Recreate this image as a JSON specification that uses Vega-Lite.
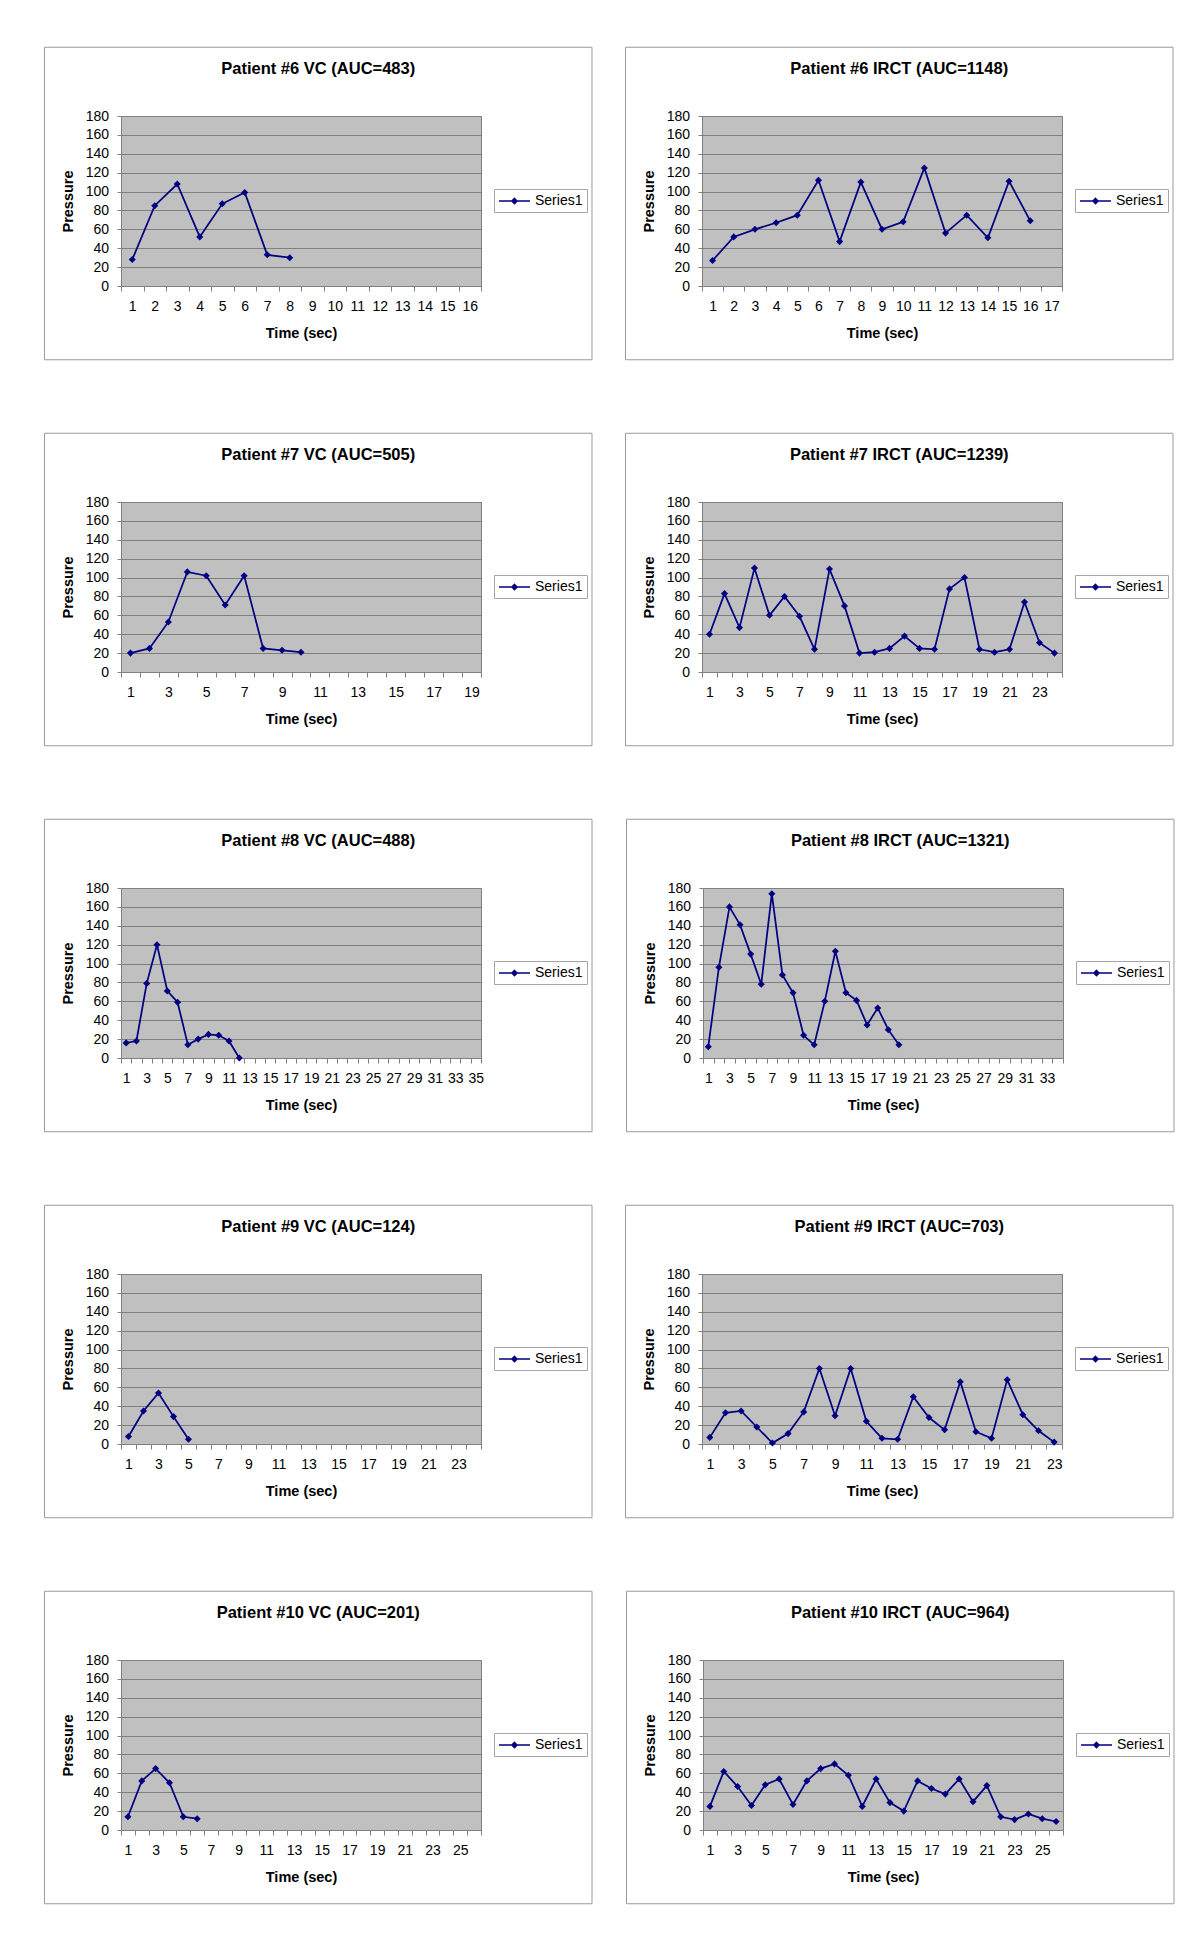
{
  "$schema": "https://vega.github.io/schema/vega-lite/v6.json",
  "background": "#ffffff",
  "padding": {"left": 43, "top": 46, "right": 0, "bottom": 0},
  "datasets": {
    "p6vc": [{"t":1,"p":28},{"t":2,"p":85},{"t":3,"p":108},{"t":4,"p":52},{"t":5,"p":87},{"t":6,"p":99},{"t":7,"p":33},{"t":8,"p":30}],
    "p6ir": [{"t":1,"p":27},{"t":2,"p":52},{"t":3,"p":60},{"t":4,"p":67},{"t":5,"p":75},{"t":6,"p":112},{"t":7,"p":47},{"t":8,"p":110},{"t":9,"p":60},{"t":10,"p":68},{"t":11,"p":125},{"t":12,"p":56},{"t":13,"p":75},{"t":14,"p":51},{"t":15,"p":111},{"t":16,"p":69}],
    "p7vc": [{"t":1,"p":20},{"t":2,"p":25},{"t":3,"p":53},{"t":4,"p":106},{"t":5,"p":102},{"t":6,"p":71},{"t":7,"p":102},{"t":8,"p":25},{"t":9,"p":23},{"t":10,"p":21}],
    "p7ir": [{"t":1,"p":40},{"t":2,"p":83},{"t":3,"p":47},{"t":4,"p":110},{"t":5,"p":60},{"t":6,"p":80},{"t":7,"p":59},{"t":8,"p":24},{"t":9,"p":109},{"t":10,"p":70},{"t":11,"p":20},{"t":12,"p":21},{"t":13,"p":25},{"t":14,"p":38},{"t":15,"p":25},{"t":16,"p":24},{"t":17,"p":88},{"t":18,"p":100},{"t":19,"p":24},{"t":20,"p":21},{"t":21,"p":24},{"t":22,"p":74},{"t":23,"p":31},{"t":24,"p":20}],
    "p8vc": [{"t":1,"p":16},{"t":2,"p":18},{"t":3,"p":79},{"t":4,"p":120},{"t":5,"p":71},{"t":6,"p":59},{"t":7,"p":14},{"t":8,"p":20},{"t":9,"p":25},{"t":10,"p":24},{"t":11,"p":18},{"t":12,"p":0}],
    "p8ir": [{"t":1,"p":12},{"t":2,"p":96},{"t":3,"p":160},{"t":4,"p":141},{"t":5,"p":110},{"t":6,"p":78},{"t":7,"p":174},{"t":8,"p":88},{"t":9,"p":69},{"t":10,"p":24},{"t":11,"p":14},{"t":12,"p":60},{"t":13,"p":113},{"t":14,"p":69},{"t":15,"p":61},{"t":16,"p":35},{"t":17,"p":53},{"t":18,"p":30},{"t":19,"p":14}],
    "p9vc": [{"t":1,"p":8},{"t":2,"p":35},{"t":3,"p":54},{"t":4,"p":29},{"t":5,"p":5}],
    "p9ir": [{"t":1,"p":7},{"t":2,"p":33},{"t":3,"p":35},{"t":4,"p":18},{"t":5,"p":1},{"t":6,"p":11},{"t":7,"p":34},{"t":8,"p":80},{"t":9,"p":30},{"t":10,"p":80},{"t":11,"p":24},{"t":12,"p":6},{"t":13,"p":5},{"t":14,"p":50},{"t":15,"p":28},{"t":16,"p":15},{"t":17,"p":66},{"t":18,"p":13},{"t":19,"p":6},{"t":20,"p":68},{"t":21,"p":31},{"t":22,"p":14},{"t":23,"p":2}],
    "p10vc": [{"t":1,"p":14},{"t":2,"p":52},{"t":3,"p":65},{"t":4,"p":50},{"t":5,"p":14},{"t":6,"p":12}],
    "p10ir": [{"t":1,"p":25},{"t":2,"p":62},{"t":3,"p":46},{"t":4,"p":26},{"t":5,"p":48},{"t":6,"p":54},{"t":7,"p":27},{"t":8,"p":52},{"t":9,"p":65},{"t":10,"p":70},{"t":11,"p":58},{"t":12,"p":25},{"t":13,"p":54},{"t":14,"p":29},{"t":15,"p":20},{"t":16,"p":52},{"t":17,"p":44},{"t":18,"p":38},{"t":19,"p":54},{"t":20,"p":30},{"t":21,"p":47},{"t":22,"p":14},{"t":23,"p":11},{"t":24,"p":17},{"t":25,"p":12},{"t":26,"p":9}]
  },
  "vconcat": [
    {
      "hconcat": [
        {
          "width": 360, "height": 170,
          "title": {"text": "Patient #6 VC (AUC=483)"},
          "layer": [
            {"data": {"values": [{}]}, "mark": {"type": "rect", "filled": false, "stroke": "#9a9a9a", "strokeWidth": 1},
             "encoding": {"x": {"datum": -2.9, "type": "quantitative"}, "x2": {"datum": 21.433}, "y": {"datum": -78.1, "type": "quantitative"}, "y2": {"datum": 252.8}}},
            {"data": {"name": "p6vc"}, "mark": {"type": "line", "strokeWidth": 1.75},
             "encoding": {
               "x": {"field": "t", "type": "quantitative", "scale": {"domain": [0.5, 16.5], "nice": false, "zero": false},
                     "axis": {"title": "Time (sec)", "tickCount": 100, "labelOverlap": false, "labelFlush": false, "values": [0.5,1.5,2.5,3.5,4.5,5.5,6.5,7.5,8.5,9.5,10.5,11.5,12.5,13.5,14.5,15.5,16.5], "labelOffset": 11.25, "labelExpr": "datum.value + 0.5 <= 16 ? '' + (datum.value + 0.5) : ''"}},
               "y": {"field": "p", "type": "quantitative", "scale": {"domain": [0, 180], "nice": false}, "axis": {"title": "Pressure", "tickCount": 100, "labelOverlap": false, "values": [0,20,40,60,80,100,120,140,160,180]}},
               "color": {"datum": "Series1", "type": "nominal", "scale": {"range": ["#000080"]},
                         "legend": {"title": null, "orient": "none", "legendX": 373, "legendY": 73, "padding": 4, "strokeColor": "#a6a6a6", "fillColor": "#ffffff", "symbolType": "M-1,0L3.43,0M1.214,-0.37L1.584,0L1.214,0.37L0.844,0Z", "symbolSize": 196, "symbolStrokeWidth": 1.5, "labelOffset": 21, "labelFontSize": 14, "labelFont": "Liberation Sans", "labelColor": "#000000", "encode": {"symbols": {"update": {"fill": {"value": "#000080"}, "stroke": {"value": "#000080"}, "strokeWidth": {"value": 1.5}, "opacity": {"value": 1}}}}}}
             }},
            {"data": {"name": "p6vc"}, "mark": {"type": "point", "shape": "diamond", "filled": true, "size": 50, "color": "#000080", "opacity": 1},
             "encoding": {"x": {"field": "t", "type": "quantitative"}, "y": {"field": "p", "type": "quantitative"}}}
          ]
        },
        {
          "width": 360, "height": 170,
          "title": {"text": "Patient #6 IRCT (AUC=1148)"},
          "layer": [
            {"data": {"values": [{}]}, "mark": {"type": "rect", "filled": false, "stroke": "#9a9a9a", "strokeWidth": 1},
             "encoding": {"x": {"datum": -3.1125, "type": "quantitative"}, "x2": {"datum": 22.742}, "y": {"datum": -78.1, "type": "quantitative"}, "y2": {"datum": 252.8}}},
            {"data": {"name": "p6ir"}, "mark": {"type": "line", "strokeWidth": 1.75},
             "encoding": {
               "x": {"field": "t", "type": "quantitative", "scale": {"domain": [0.5, 17.5], "nice": false, "zero": false},
                     "axis": {"title": "Time (sec)", "tickCount": 100, "labelOverlap": false, "labelFlush": false, "values": [0.5,1.5,2.5,3.5,4.5,5.5,6.5,7.5,8.5,9.5,10.5,11.5,12.5,13.5,14.5,15.5,16.5,17.5], "labelOffset": 10.588, "labelExpr": "datum.value + 0.5 <= 17 ? '' + (datum.value + 0.5) : ''"}},
               "y": {"field": "p", "type": "quantitative", "scale": {"domain": [0, 180], "nice": false}, "axis": {"title": "Pressure", "tickCount": 100, "labelOverlap": false, "values": [0,20,40,60,80,100,120,140,160,180]}},
               "color": {"datum": "Series1", "type": "nominal", "scale": {"range": ["#000080"]},
                         "legend": {"title": null, "orient": "none", "legendX": 373, "legendY": 73, "padding": 4, "strokeColor": "#a6a6a6", "fillColor": "#ffffff", "symbolType": "M-1,0L3.43,0M1.214,-0.37L1.584,0L1.214,0.37L0.844,0Z", "symbolSize": 196, "symbolStrokeWidth": 1.5, "labelOffset": 21, "labelFontSize": 14, "labelFont": "Liberation Sans", "labelColor": "#000000", "encode": {"symbols": {"update": {"fill": {"value": "#000080"}, "stroke": {"value": "#000080"}, "strokeWidth": {"value": 1.5}, "opacity": {"value": 1}}}}}}
             }},
            {"data": {"name": "p6ir"}, "mark": {"type": "point", "shape": "diamond", "filled": true, "size": 50, "color": "#000080", "opacity": 1},
             "encoding": {"x": {"field": "t", "type": "quantitative"}, "y": {"field": "p", "type": "quantitative"}}}
          ]
        }
      ],
      "spacing": 31,
      "resolve": {"scale": {"color": "independent"}}
    },
    {
      "hconcat": [
        {
          "width": 360, "height": 170,
          "title": {"text": "Patient #7 VC (AUC=505)"},
          "layer": [
            {"data": {"values": [{}]}, "mark": {"type": "rect", "filled": false, "stroke": "#9a9a9a", "strokeWidth": 1},
             "encoding": {"x": {"datum": -3.5375, "type": "quantitative"}, "x2": {"datum": 25.358}, "y": {"datum": -78.1, "type": "quantitative"}, "y2": {"datum": 252.8}}},
            {"data": {"name": "p7vc"}, "mark": {"type": "line", "strokeWidth": 1.75},
             "encoding": {
               "x": {"field": "t", "type": "quantitative", "scale": {"domain": [0.5, 19.5], "nice": false, "zero": false},
                     "axis": {"title": "Time (sec)", "tickCount": 100, "labelOverlap": false, "labelFlush": false, "values": [0.5,1.5,2.5,3.5,4.5,5.5,6.5,7.5,8.5,9.5,10.5,11.5,12.5,13.5,14.5,15.5,16.5,17.5,18.5,19.5], "labelOffset": 9.474, "labelExpr": "(datum.value + 0.5 <= 19 && (datum.value + 0.5) % 2 == 1) ? '' + (datum.value + 0.5) : ''"}},
               "y": {"field": "p", "type": "quantitative", "scale": {"domain": [0, 180], "nice": false}, "axis": {"title": "Pressure", "tickCount": 100, "labelOverlap": false, "values": [0,20,40,60,80,100,120,140,160,180]}},
               "color": {"datum": "Series1", "type": "nominal", "scale": {"range": ["#000080"]},
                         "legend": {"title": null, "orient": "none", "legendX": 373, "legendY": 73, "padding": 4, "strokeColor": "#a6a6a6", "fillColor": "#ffffff", "symbolType": "M-1,0L3.43,0M1.214,-0.37L1.584,0L1.214,0.37L0.844,0Z", "symbolSize": 196, "symbolStrokeWidth": 1.5, "labelOffset": 21, "labelFontSize": 14, "labelFont": "Liberation Sans", "labelColor": "#000000", "encode": {"symbols": {"update": {"fill": {"value": "#000080"}, "stroke": {"value": "#000080"}, "strokeWidth": {"value": 1.5}, "opacity": {"value": 1}}}}}}
             }},
            {"data": {"name": "p7vc"}, "mark": {"type": "point", "shape": "diamond", "filled": true, "size": 50, "color": "#000080", "opacity": 1},
             "encoding": {"x": {"field": "t", "type": "quantitative"}, "y": {"field": "p", "type": "quantitative"}}}
          ]
        },
        {
          "width": 360, "height": 170,
          "title": {"text": "Patient #7 IRCT (AUC=1239)"},
          "layer": [
            {"data": {"values": [{}]}, "mark": {"type": "rect", "filled": false, "stroke": "#9a9a9a", "strokeWidth": 1},
             "encoding": {"x": {"datum": -4.6, "type": "quantitative"}, "x2": {"datum": 31.9}, "y": {"datum": -78.1, "type": "quantitative"}, "y2": {"datum": 252.8}}},
            {"data": {"name": "p7ir"}, "mark": {"type": "line", "strokeWidth": 1.75},
             "encoding": {
               "x": {"field": "t", "type": "quantitative", "scale": {"domain": [0.5, 24.5], "nice": false, "zero": false},
                     "axis": {"title": "Time (sec)", "tickCount": 100, "labelOverlap": false, "labelFlush": false, "values": [0.5,1.5,2.5,3.5,4.5,5.5,6.5,7.5,8.5,9.5,10.5,11.5,12.5,13.5,14.5,15.5,16.5,17.5,18.5,19.5,20.5,21.5,22.5,23.5,24.5], "labelOffset": 7.5, "labelExpr": "(datum.value + 0.5 <= 24 && (datum.value + 0.5) % 2 == 1) ? '' + (datum.value + 0.5) : ''"}},
               "y": {"field": "p", "type": "quantitative", "scale": {"domain": [0, 180], "nice": false}, "axis": {"title": "Pressure", "tickCount": 100, "labelOverlap": false, "values": [0,20,40,60,80,100,120,140,160,180]}},
               "color": {"datum": "Series1", "type": "nominal", "scale": {"range": ["#000080"]},
                         "legend": {"title": null, "orient": "none", "legendX": 373, "legendY": 73, "padding": 4, "strokeColor": "#a6a6a6", "fillColor": "#ffffff", "symbolType": "M-1,0L3.43,0M1.214,-0.37L1.584,0L1.214,0.37L0.844,0Z", "symbolSize": 196, "symbolStrokeWidth": 1.5, "labelOffset": 21, "labelFontSize": 14, "labelFont": "Liberation Sans", "labelColor": "#000000", "encode": {"symbols": {"update": {"fill": {"value": "#000080"}, "stroke": {"value": "#000080"}, "strokeWidth": {"value": 1.5}, "opacity": {"value": 1}}}}}}
             }},
            {"data": {"name": "p7ir"}, "mark": {"type": "point", "shape": "diamond", "filled": true, "size": 50, "color": "#000080", "opacity": 1},
             "encoding": {"x": {"field": "t", "type": "quantitative"}, "y": {"field": "p", "type": "quantitative"}}}
          ]
        }
      ],
      "spacing": 31,
      "resolve": {"scale": {"color": "independent"}}
    },
    {
      "hconcat": [
        {
          "width": 360, "height": 170,
          "title": {"text": "Patient #8 VC (AUC=488)"},
          "layer": [
            {"data": {"values": [{}]}, "mark": {"type": "rect", "filled": false, "stroke": "#9a9a9a", "strokeWidth": 1},
             "encoding": {"x": {"datum": -6.9375, "type": "quantitative"}, "x2": {"datum": 46.292}, "y": {"datum": -78.1, "type": "quantitative"}, "y2": {"datum": 252.8}}},
            {"data": {"name": "p8vc"}, "mark": {"type": "line", "strokeWidth": 1.75},
             "encoding": {
               "x": {"field": "t", "type": "quantitative", "scale": {"domain": [0.5, 35.5], "nice": false, "zero": false},
                     "axis": {"title": "Time (sec)", "tickCount": 100, "labelOverlap": false, "labelFlush": false, "values": [0.5,1.5,2.5,3.5,4.5,5.5,6.5,7.5,8.5,9.5,10.5,11.5,12.5,13.5,14.5,15.5,16.5,17.5,18.5,19.5,20.5,21.5,22.5,23.5,24.5,25.5,26.5,27.5,28.5,29.5,30.5,31.5,32.5,33.5,34.5,35.5], "labelOffset": 5.143, "labelExpr": "(datum.value + 0.5 <= 35 && (datum.value + 0.5) % 2 == 1) ? '' + (datum.value + 0.5) : ''"}},
               "y": {"field": "p", "type": "quantitative", "scale": {"domain": [0, 180], "nice": false}, "axis": {"title": "Pressure", "tickCount": 100, "labelOverlap": false, "values": [0,20,40,60,80,100,120,140,160,180]}},
               "color": {"datum": "Series1", "type": "nominal", "scale": {"range": ["#000080"]},
                         "legend": {"title": null, "orient": "none", "legendX": 373, "legendY": 73, "padding": 4, "strokeColor": "#a6a6a6", "fillColor": "#ffffff", "symbolType": "M-1,0L3.43,0M1.214,-0.37L1.584,0L1.214,0.37L0.844,0Z", "symbolSize": 196, "symbolStrokeWidth": 1.5, "labelOffset": 21, "labelFontSize": 14, "labelFont": "Liberation Sans", "labelColor": "#000000", "encode": {"symbols": {"update": {"fill": {"value": "#000080"}, "stroke": {"value": "#000080"}, "strokeWidth": {"value": 1.5}, "opacity": {"value": 1}}}}}}
             }},
            {"data": {"name": "p8vc"}, "mark": {"type": "point", "shape": "diamond", "filled": true, "size": 50, "color": "#000080", "opacity": 1},
             "encoding": {"x": {"field": "t", "type": "quantitative"}, "y": {"field": "p", "type": "quantitative"}}}
          ]
        },
        {
          "width": 360, "height": 170,
          "title": {"text": "Patient #8 IRCT (AUC=1321)"},
          "layer": [
            {"data": {"values": [{}]}, "mark": {"type": "rect", "filled": false, "stroke": "#9a9a9a", "strokeWidth": 1},
             "encoding": {"x": {"datum": -6.725, "type": "quantitative"}, "x2": {"datum": 44.983}, "y": {"datum": -78.1, "type": "quantitative"}, "y2": {"datum": 252.8}}},
            {"data": {"name": "p8ir"}, "mark": {"type": "line", "strokeWidth": 1.75},
             "encoding": {
               "x": {"field": "t", "type": "quantitative", "scale": {"domain": [0.5, 34.5], "nice": false, "zero": false},
                     "axis": {"title": "Time (sec)", "tickCount": 100, "labelOverlap": false, "labelFlush": false, "values": [0.5,1.5,2.5,3.5,4.5,5.5,6.5,7.5,8.5,9.5,10.5,11.5,12.5,13.5,14.5,15.5,16.5,17.5,18.5,19.5,20.5,21.5,22.5,23.5,24.5,25.5,26.5,27.5,28.5,29.5,30.5,31.5,32.5,33.5,34.5], "labelOffset": 5.294, "labelExpr": "(datum.value + 0.5 <= 34 && (datum.value + 0.5) % 2 == 1) ? '' + (datum.value + 0.5) : ''"}},
               "y": {"field": "p", "type": "quantitative", "scale": {"domain": [0, 180], "nice": false}, "axis": {"title": "Pressure", "tickCount": 100, "labelOverlap": false, "values": [0,20,40,60,80,100,120,140,160,180]}},
               "color": {"datum": "Series1", "type": "nominal", "scale": {"range": ["#000080"]},
                         "legend": {"title": null, "orient": "none", "legendX": 373, "legendY": 73, "padding": 4, "strokeColor": "#a6a6a6", "fillColor": "#ffffff", "symbolType": "M-1,0L3.43,0M1.214,-0.37L1.584,0L1.214,0.37L0.844,0Z", "symbolSize": 196, "symbolStrokeWidth": 1.5, "labelOffset": 21, "labelFontSize": 14, "labelFont": "Liberation Sans", "labelColor": "#000000", "encode": {"symbols": {"update": {"fill": {"value": "#000080"}, "stroke": {"value": "#000080"}, "strokeWidth": {"value": 1.5}, "opacity": {"value": 1}}}}}}
             }},
            {"data": {"name": "p8ir"}, "mark": {"type": "point", "shape": "diamond", "filled": true, "size": 50, "color": "#000080", "opacity": 1},
             "encoding": {"x": {"field": "t", "type": "quantitative"}, "y": {"field": "p", "type": "quantitative"}}}
          ]
        }
      ],
      "spacing": 31,
      "resolve": {"scale": {"color": "independent"}}
    },
    {
      "hconcat": [
        {
          "width": 360, "height": 170,
          "title": {"text": "Patient #9 VC (AUC=124)"},
          "layer": [
            {"data": {"values": [{}]}, "mark": {"type": "rect", "filled": false, "stroke": "#9a9a9a", "strokeWidth": 1},
             "encoding": {"x": {"datum": -4.6, "type": "quantitative"}, "x2": {"datum": 31.9}, "y": {"datum": -78.1, "type": "quantitative"}, "y2": {"datum": 252.8}}},
            {"data": {"name": "p9vc"}, "mark": {"type": "line", "strokeWidth": 1.75},
             "encoding": {
               "x": {"field": "t", "type": "quantitative", "scale": {"domain": [0.5, 24.5], "nice": false, "zero": false},
                     "axis": {"title": "Time (sec)", "tickCount": 100, "labelOverlap": false, "labelFlush": false, "values": [0.5,1.5,2.5,3.5,4.5,5.5,6.5,7.5,8.5,9.5,10.5,11.5,12.5,13.5,14.5,15.5,16.5,17.5,18.5,19.5,20.5,21.5,22.5,23.5,24.5], "labelOffset": 7.5, "labelExpr": "(datum.value + 0.5 <= 24 && (datum.value + 0.5) % 2 == 1) ? '' + (datum.value + 0.5) : ''"}},
               "y": {"field": "p", "type": "quantitative", "scale": {"domain": [0, 180], "nice": false}, "axis": {"title": "Pressure", "tickCount": 100, "labelOverlap": false, "values": [0,20,40,60,80,100,120,140,160,180]}},
               "color": {"datum": "Series1", "type": "nominal", "scale": {"range": ["#000080"]},
                         "legend": {"title": null, "orient": "none", "legendX": 373, "legendY": 73, "padding": 4, "strokeColor": "#a6a6a6", "fillColor": "#ffffff", "symbolType": "M-1,0L3.43,0M1.214,-0.37L1.584,0L1.214,0.37L0.844,0Z", "symbolSize": 196, "symbolStrokeWidth": 1.5, "labelOffset": 21, "labelFontSize": 14, "labelFont": "Liberation Sans", "labelColor": "#000000", "encode": {"symbols": {"update": {"fill": {"value": "#000080"}, "stroke": {"value": "#000080"}, "strokeWidth": {"value": 1.5}, "opacity": {"value": 1}}}}}}
             }},
            {"data": {"name": "p9vc"}, "mark": {"type": "point", "shape": "diamond", "filled": true, "size": 50, "color": "#000080", "opacity": 1},
             "encoding": {"x": {"field": "t", "type": "quantitative"}, "y": {"field": "p", "type": "quantitative"}}}
          ]
        },
        {
          "width": 360, "height": 170,
          "title": {"text": "Patient #9 IRCT (AUC=703)"},
          "layer": [
            {"data": {"values": [{}]}, "mark": {"type": "rect", "filled": false, "stroke": "#9a9a9a", "strokeWidth": 1},
             "encoding": {"x": {"datum": -4.3875, "type": "quantitative"}, "x2": {"datum": 30.592}, "y": {"datum": -78.1, "type": "quantitative"}, "y2": {"datum": 252.8}}},
            {"data": {"name": "p9ir"}, "mark": {"type": "line", "strokeWidth": 1.75},
             "encoding": {
               "x": {"field": "t", "type": "quantitative", "scale": {"domain": [0.5, 23.5], "nice": false, "zero": false},
                     "axis": {"title": "Time (sec)", "tickCount": 100, "labelOverlap": false, "labelFlush": false, "values": [0.5,1.5,2.5,3.5,4.5,5.5,6.5,7.5,8.5,9.5,10.5,11.5,12.5,13.5,14.5,15.5,16.5,17.5,18.5,19.5,20.5,21.5,22.5,23.5], "labelOffset": 7.826, "labelExpr": "(datum.value + 0.5 <= 23 && (datum.value + 0.5) % 2 == 1) ? '' + (datum.value + 0.5) : ''"}},
               "y": {"field": "p", "type": "quantitative", "scale": {"domain": [0, 180], "nice": false}, "axis": {"title": "Pressure", "tickCount": 100, "labelOverlap": false, "values": [0,20,40,60,80,100,120,140,160,180]}},
               "color": {"datum": "Series1", "type": "nominal", "scale": {"range": ["#000080"]},
                         "legend": {"title": null, "orient": "none", "legendX": 373, "legendY": 73, "padding": 4, "strokeColor": "#a6a6a6", "fillColor": "#ffffff", "symbolType": "M-1,0L3.43,0M1.214,-0.37L1.584,0L1.214,0.37L0.844,0Z", "symbolSize": 196, "symbolStrokeWidth": 1.5, "labelOffset": 21, "labelFontSize": 14, "labelFont": "Liberation Sans", "labelColor": "#000000", "encode": {"symbols": {"update": {"fill": {"value": "#000080"}, "stroke": {"value": "#000080"}, "strokeWidth": {"value": 1.5}, "opacity": {"value": 1}}}}}}
             }},
            {"data": {"name": "p9ir"}, "mark": {"type": "point", "shape": "diamond", "filled": true, "size": 50, "color": "#000080", "opacity": 1},
             "encoding": {"x": {"field": "t", "type": "quantitative"}, "y": {"field": "p", "type": "quantitative"}}}
          ]
        }
      ],
      "spacing": 31,
      "resolve": {"scale": {"color": "independent"}}
    },
    {
      "hconcat": [
        {
          "width": 360, "height": 170,
          "title": {"text": "Patient #10 VC (AUC=201)"},
          "layer": [
            {"data": {"values": [{}]}, "mark": {"type": "rect", "filled": false, "stroke": "#9a9a9a", "strokeWidth": 1},
             "encoding": {"x": {"datum": -5.025, "type": "quantitative"}, "x2": {"datum": 34.517}, "y": {"datum": -78.1, "type": "quantitative"}, "y2": {"datum": 252.8}}},
            {"data": {"name": "p10vc"}, "mark": {"type": "line", "strokeWidth": 1.75},
             "encoding": {
               "x": {"field": "t", "type": "quantitative", "scale": {"domain": [0.5, 26.5], "nice": false, "zero": false},
                     "axis": {"title": "Time (sec)", "tickCount": 100, "labelOverlap": false, "labelFlush": false, "values": [0.5,1.5,2.5,3.5,4.5,5.5,6.5,7.5,8.5,9.5,10.5,11.5,12.5,13.5,14.5,15.5,16.5,17.5,18.5,19.5,20.5,21.5,22.5,23.5,24.5,25.5,26.5], "labelOffset": 6.923, "labelExpr": "(datum.value + 0.5 <= 26 && (datum.value + 0.5) % 2 == 1) ? '' + (datum.value + 0.5) : ''"}},
               "y": {"field": "p", "type": "quantitative", "scale": {"domain": [0, 180], "nice": false}, "axis": {"title": "Pressure", "tickCount": 100, "labelOverlap": false, "values": [0,20,40,60,80,100,120,140,160,180]}},
               "color": {"datum": "Series1", "type": "nominal", "scale": {"range": ["#000080"]},
                         "legend": {"title": null, "orient": "none", "legendX": 373, "legendY": 73, "padding": 4, "strokeColor": "#a6a6a6", "fillColor": "#ffffff", "symbolType": "M-1,0L3.43,0M1.214,-0.37L1.584,0L1.214,0.37L0.844,0Z", "symbolSize": 196, "symbolStrokeWidth": 1.5, "labelOffset": 21, "labelFontSize": 14, "labelFont": "Liberation Sans", "labelColor": "#000000", "encode": {"symbols": {"update": {"fill": {"value": "#000080"}, "stroke": {"value": "#000080"}, "strokeWidth": {"value": 1.5}, "opacity": {"value": 1}}}}}}
             }},
            {"data": {"name": "p10vc"}, "mark": {"type": "point", "shape": "diamond", "filled": true, "size": 50, "color": "#000080", "opacity": 1},
             "encoding": {"x": {"field": "t", "type": "quantitative"}, "y": {"field": "p", "type": "quantitative"}}}
          ]
        },
        {
          "width": 360, "height": 170,
          "title": {"text": "Patient #10 IRCT (AUC=964)"},
          "layer": [
            {"data": {"values": [{}]}, "mark": {"type": "rect", "filled": false, "stroke": "#9a9a9a", "strokeWidth": 1},
             "encoding": {"x": {"datum": -5.025, "type": "quantitative"}, "x2": {"datum": 34.517}, "y": {"datum": -78.1, "type": "quantitative"}, "y2": {"datum": 252.8}}},
            {"data": {"name": "p10ir"}, "mark": {"type": "line", "strokeWidth": 1.75},
             "encoding": {
               "x": {"field": "t", "type": "quantitative", "scale": {"domain": [0.5, 26.5], "nice": false, "zero": false},
                     "axis": {"title": "Time (sec)", "tickCount": 100, "labelOverlap": false, "labelFlush": false, "values": [0.5,1.5,2.5,3.5,4.5,5.5,6.5,7.5,8.5,9.5,10.5,11.5,12.5,13.5,14.5,15.5,16.5,17.5,18.5,19.5,20.5,21.5,22.5,23.5,24.5,25.5,26.5], "labelOffset": 6.923, "labelExpr": "(datum.value + 0.5 <= 26 && (datum.value + 0.5) % 2 == 1) ? '' + (datum.value + 0.5) : ''"}},
               "y": {"field": "p", "type": "quantitative", "scale": {"domain": [0, 180], "nice": false}, "axis": {"title": "Pressure", "tickCount": 100, "labelOverlap": false, "values": [0,20,40,60,80,100,120,140,160,180]}},
               "color": {"datum": "Series1", "type": "nominal", "scale": {"range": ["#000080"]},
                         "legend": {"title": null, "orient": "none", "legendX": 373, "legendY": 73, "padding": 4, "strokeColor": "#a6a6a6", "fillColor": "#ffffff", "symbolType": "M-1,0L3.43,0M1.214,-0.37L1.584,0L1.214,0.37L0.844,0Z", "symbolSize": 196, "symbolStrokeWidth": 1.5, "labelOffset": 21, "labelFontSize": 14, "labelFont": "Liberation Sans", "labelColor": "#000000", "encode": {"symbols": {"update": {"fill": {"value": "#000080"}, "stroke": {"value": "#000080"}, "strokeWidth": {"value": 1.5}, "opacity": {"value": 1}}}}}}
             }},
            {"data": {"name": "p10ir"}, "mark": {"type": "point", "shape": "diamond", "filled": true, "size": 50, "color": "#000080", "opacity": 1},
             "encoding": {"x": {"field": "t", "type": "quantitative"}, "y": {"field": "p", "type": "quantitative"}}}
          ]
        }
      ],
      "spacing": 31,
      "resolve": {"scale": {"color": "independent"}}
    }
  ],
  "spacing": 71,
  "resolve": {"scale": {"color": "independent"}},
  "config": {
    "font": "Liberation Sans",
    "view": {"fill": "#C0C0C0", "stroke": "#808080", "strokeWidth": 1},
    "axis": {"labelFont": "Liberation Sans", "labelFontSize": 14, "labelColor": "#000000", "titleFont": "Liberation Sans", "titleFontSize": 14.5, "titleFontWeight": "bold", "titleColor": "#000000", "tickColor": "#808080", "tickWidth": 1, "domain": false},
    "axisX": {"grid": false, "tickSize": 5, "labelPadding": 8, "titlePadding": 13.5, "labelFlush": false, "labelOverlap": false, "labelAngle": 0},
    "axisY": {"grid": true, "gridColor": "#7f7f7f", "gridWidth": 1, "tickSize": 4, "labelPadding": 8.5, "titlePadding": 9.5, "labelOverlap": false},
    "title": {"font": "Liberation Sans", "fontSize": 16.5, "fontWeight": "bold", "color": "#000000", "anchor": "middle", "frame": "bounds", "baseline": "alphabetic", "offset": -30.3}
  }
}
